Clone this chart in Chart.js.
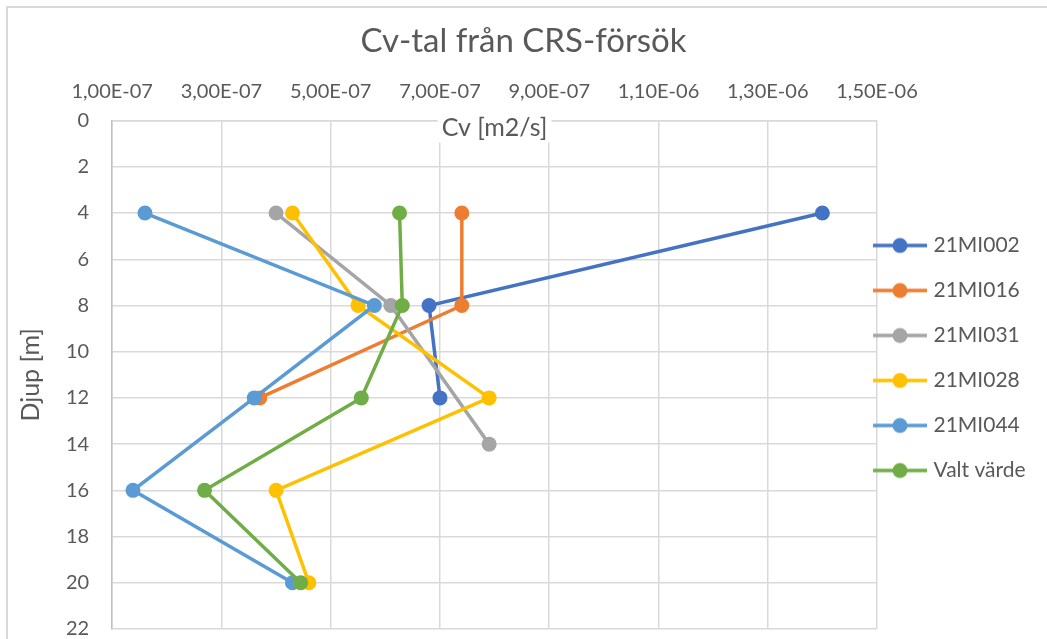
<!DOCTYPE html>
<html>
<head>
<meta charset="utf-8">
<title>Cv-tal från CRS-försök</title>
<script src="https://cdn.jsdelivr.net/npm/chart.js@4.4.0/dist/chart.umd.min.js"></script>
<style>
  html, body { margin: 0; padding: 0; background: #fff; }
  #wrap { position: relative; width: 1047px; height: 639px; overflow: hidden; }
  #frame { position: absolute; left: 6px; top: 6px; width: 1100px; height: 700px;
           border-left: 2px solid #d9d9d9; border-top: 2px solid #d9d9d9; }
  #cv-chart { position: absolute; left: 0; top: 0; }
</style>
</head>
<body>
<div id="wrap"><div id="frame"></div><canvas id="cv-chart" width="1047" height="639"></canvas></div>
<script>
// series names and colours (Excel office palette)
const seriesNames = ['21MI002', '21MI016', '21MI031', '21MI028', '21MI044', 'Valt värde'];
const seriesColors = ['#4472C4', '#ED7D31', '#A5A5A5', '#FFC000', '#5B9BD5', '#70AD47'];

// depth [m] and Cv [m2/s] per series
const depth002 = [4, 8, 12];
const cv002 = [1.40e-6, 6.8e-7, 7.0e-7];

const depth016 = [4, 8, 12];
const cv016 = [7.4e-7, 7.4e-7, 3.7e-7];

const depth031 = [4, 8, 14];
const cv031 = [4.0e-7, 6.1e-7, 7.9e-7];

const depth028 = [4, 8, 12, 16, 20];
const cv028 = [4.3e-7, 5.5e-7, 7.9e-7, 4.0e-7, 4.6e-7];

const depth044 = [4, 8, 12, 16, 20];
const cv044 = [1.6e-7, 5.8e-7, 3.6e-7, 1.38e-7, 4.3e-7];

const depthValt = [4, 8, 12, 16, 20];
const cvValt = [6.26e-7, 6.31e-7, 5.56e-7, 2.69e-7, 4.45e-7];

// axis ticks
const cvTicks = [1e-7, 3e-7, 5e-7, 7e-7, 9e-7, 1.1e-6, 1.3e-6, 1.5e-6];
const depthTicks = [0, 2, 4, 6, 8, 10, 12, 14, 16, 18, 20, 22];

const seriesDepths = [depth002, depth016, depth031, depth028, depth044, depthValt];
const seriesCv = [cv002, cv016, cv031, cv028, cv044, cvValt];

const textColor = '#595959';
const gridColor = '#d9d9d9';

Chart.defaults.font.family = 'Lato';
Chart.defaults.color = textColor;

// "1,00E-07" style like Excel (Swedish)
function fmtSci(v) {
    const parts = v.toExponential(2).split('e');
    const ex = parseInt(parts[1], 10);
    return parts[0].replace('.', ',') + 'E' + (ex < 0 ? '-' : '+') + String(Math.abs(ex)).padStart(2, '0');
}

// legend marker: line with a dot in the middle
function legendMarker(color) {
    const c = document.createElement('canvas');
    c.width = 54; c.height = 18;
    const g = c.getContext('2d');
    g.strokeStyle = color;
    g.lineWidth = 3.5;
    g.beginPath(); g.moveTo(0, 9); g.lineTo(54, 9); g.stroke();
    g.fillStyle = color;
    g.beginPath(); g.arc(27, 9, 7.5, 0, Math.PI * 2); g.fill();
    return c;
}
const markers = seriesColors.map(legendMarker);

const datasets = seriesNames.map((name, i) => ({
    label: name,
    data: seriesDepths[i].map((d, j) => ({ x: seriesCv[i][j], y: d })),
    showLine: true,
    borderColor: seriesColors[i],
    backgroundColor: seriesColors[i],
    borderWidth: 3.5,
    pointRadius: 7.5,
    pointBorderWidth: 0,
    pointHoverRadius: 7.5,
    order: seriesNames.length - i   // later series drawn on top, like Excel
}));

// x-axis title sits inside the plot under the top axis, and legend placement
const layoutTweaks = {
    id: 'layoutTweaks',
    afterLayout(chart) {
        const lg = chart.legend;
        const h = lg.bottom - lg.top;
        lg.left = 853; lg.right = chart.width;
        lg.top = 211; lg.bottom = lg.top + h;
    },
    afterDraw(chart) {
        const { ctx, chartArea } = chart;
        const txt = 'Cv [m2/s]';
        const cx = (chartArea.left + chartArea.right) / 2;
        const cy = chartArea.top + 7;
        ctx.save();
        ctx.font = '25px Lato';
        const tw = ctx.measureText(txt).width;
        ctx.fillStyle = '#fff';
        ctx.fillRect(cx - tw / 2 - 4, chartArea.top - 8, tw + 8, 30);
        ctx.fillStyle = textColor;
        ctx.textAlign = 'center';
        ctx.textBaseline = 'middle';
        ctx.fillText(txt, cx, cy);
        ctx.restore();
    }
};

new Chart(document.getElementById('cv-chart'), {
    type: 'scatter',
    data: { datasets: datasets },
    options: {
        responsive: false,
        animation: false,
        layout: { padding: { left: 0, right: 0, top: 0, bottom: 10 } },
        plugins: {
            title: {
                display: true,
                text: 'Cv-tal från CRS-försök',
                color: textColor,
                font: { size: 33, weight: 'normal' },
                padding: { top: 22, bottom: 1 }
            },
            legend: {
                position: 'right',
                align: 'start',
                maxWidth: 170,
                labels: {
                    usePointStyle: true,
                    pointStyleWidth: 46,
                    padding: 24,
                    color: textColor,
                    font: { size: 21 },
                    generateLabels(chart) {
                        const items = Chart.defaults.plugins.legend.labels.generateLabels(chart);
                        items.forEach(it => { it.pointStyle = markers[it.datasetIndex]; });
                        return items;
                    },
                    sort: (a, b) => a.datasetIndex - b.datasetIndex
                }
            },
            tooltip: { enabled: false }
        },
        scales: {
            x: {
                type: 'linear',
                position: 'top',
                min: cvTicks[0],
                max: cvTicks[cvTicks.length - 1],
                afterBuildTicks: axis => { axis.ticks = cvTicks.map(v => ({ value: v })); },
                grid: { color: gridColor, lineWidth: 1.5, drawTicks: false },
                border: { color: gridColor, width: 1.5 },
                ticks: {
                    padding: 17,
                    maxRotation: 0,
                    autoSkip: false,
                    color: textColor,
                    font: { size: 20 },
                    callback: v => fmtSci(v)
                }
            },
            y: {
                type: 'linear',
                reverse: true,
                min: depthTicks[0],
                max: depthTicks[depthTicks.length - 1],
                afterBuildTicks: axis => { axis.ticks = depthTicks.map(v => ({ value: v })); },
                grid: { color: gridColor, lineWidth: 1.5, drawTicks: true, tickLength: 23, tickColor: 'rgba(0,0,0,0)' },
                border: { color: '#bfbfbf', width: 1.5 },
                ticks: {
                    padding: 0,
                    autoSkip: false,
                    color: textColor,
                    font: { size: 20, lineHeight: 1 }
                },
                title: {
                    display: true,
                    text: 'Djup [m]',
                    color: textColor,
                    font: { size: 25 },
                    padding: { top: 16, bottom: 20 }
                }
            }
        }
    },
    plugins: [layoutTweaks]
});
</script>
</body>
</html>
